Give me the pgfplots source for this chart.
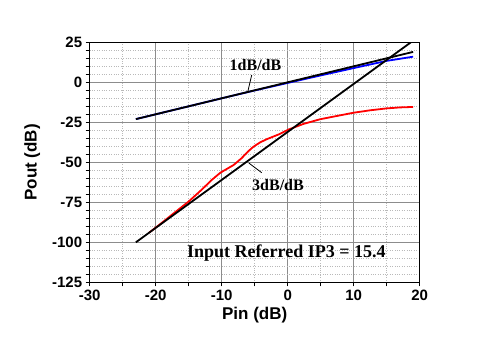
\documentclass[border=0pt]{standalone}
\usepackage{fontspec}
\setmainfont{Liberation Serif}
\setsansfont{Liberation Sans}
\usepackage{pgfplots}
\pgfplotsset{compat=1.18}
\begin{document}
\begin{tikzpicture}
\path[use as bounding box] (-89.7pt,-60.7pt) rectangle (400.3pt,282.3pt);
\begin{axis}[at={(0pt,0pt)}, anchor=south west, scale only axis, width=330pt, height=240pt,
  xmin=-30, xmax=20, ymin=-125, ymax=25,
  xtick={-30,-20,-10,0,10,20}, ytick={-125,-100,-75,-50,-25,0,25},
  minor xtick={-25,-15,-5,5,15},
  minor ytick={-120,-115,-110,-105,-95,-90,-85,-80,-70,-65,-60,-55,-45,-40,-35,-30,-20,-15,-10,-5,5,10,15,20},
  xticklabels={-30,-20,-10,0,10,20},
  yticklabels={-125,-100,-75,-50,-25,0,25},
  grid=both,
  major grid style={gray!90, line width=0.9pt},
  minor grid style={gray!55, dotted, line width=0.7pt},
  axis line style={black, line width=1.3pt},
  tick style={black, line width=0.9pt},
  tick align=outside, tick pos=left,
  major tick length=4pt, minor tick length=4pt,
  ticklabel style={font=\sffamily\bfseries\fontsize{15}{15}\selectfont},
  xlabel={Pin (dB)}, ylabel={Pout (dB)},
  ylabel shift=5pt,
  label style={font=\sffamily\bfseries\fontsize{17}{17}\selectfont},
  clip=true,
]
\addplot[blue, line width=1.8pt] coordinates {
(-23,-23) (-10,-10) (-5,-5.1) (0,-0.4) (5,4.3) (10,8.9) (15,13.4) (19,16)};
\addplot[red, line width=1.8pt] coordinates {
(-21,-94) (-19,-87.6) (-17,-81) (-15,-74.5) (-13,-67) (-11.5,-61) (-10.2,-56.5)
(-8.2,-51.7) (-7,-47.5) (-6,-43.2) (-5.2,-40.3) (-4.2,-37.6) (-3.2,-35.6) (-1.2,-32.3) (0.2,-29.4)
(2.4,-26) (4.9,-23.1) (7.5,-21) (10,-19) (12.5,-17.5) (15,-16.3) (17,-15.7) (19,-15.4)};
\addplot[black, line width=1.8pt] coordinates {(-23,-23) (19,19)};
\addplot[black, line width=1.8pt] coordinates {(-23,-100) (18.67,25)};
\draw[black, line width=0.8pt] (axis cs:-5.45,4.6) -- (axis cs:-6.05,-5.9);
\draw[black, line width=0.8pt] (axis cs:-5.9,-50.4) -- (axis cs:-3.94,-56.5);
\node[font=\bfseries\fontsize{16}{16}\selectfont] at (axis cs:-4.88,10.5) {1dB/dB};
\node[font=\bfseries\fontsize{16}{16}\selectfont] at (axis cs:-1.47,-64.4) {3dB/dB};
\node[font=\bfseries\fontsize{18}{18}\selectfont] at (axis cs:-0.2,-106.8) {Input Referred IP3 = 15.4};
\end{axis}
\end{tikzpicture}
\end{document}
